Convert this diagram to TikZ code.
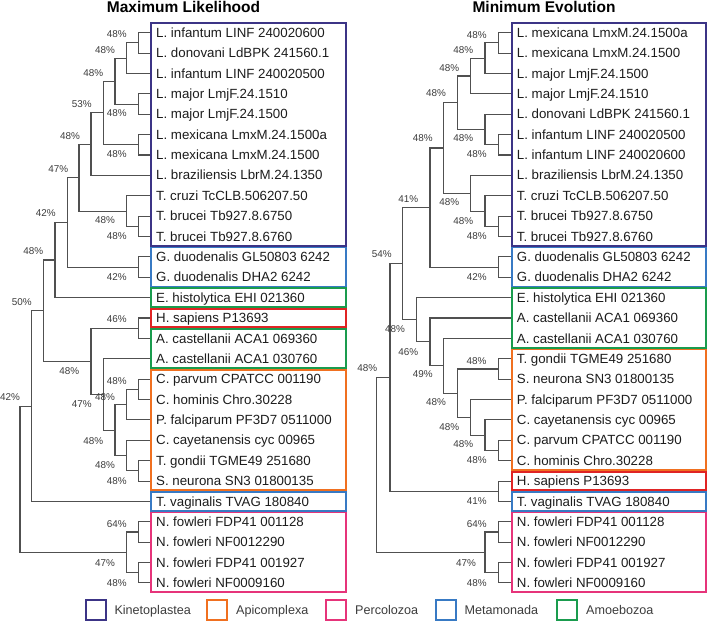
\documentclass[tikz,border=0pt]{standalone}
\usepackage{fontspec}
\setmainfont{Liberation Sans}
\definecolor{kinc}{RGB}{60,52,134}
\definecolor{apic}{RGB}{240,112,32}
\definecolor{perc}{RGB}{230,52,122}
\definecolor{metc}{RGB}{56,122,196}
\definecolor{amoc}{RGB}{26,156,78}
\definecolor{redc}{RGB}{224,36,36}
\definecolor{treec}{RGB}{80,80,80}
\definecolor{leafc}{RGB}{28,28,28}
\definecolor{pctc}{RGB}{60,60,60}
\begin{document}
\begin{tikzpicture}[x=1pt,y=-1pt,
  leaf/.style={anchor=base west, inner sep=0pt, font=\fontsize{13.3}{15}\selectfont, text=leafc},
  pct/.style={anchor=center, inner sep=0pt, font=\fontsize{9.9}{11}\selectfont, text=pctc},
  br/.style={draw=treec, line width=1.05pt},
  grp/.style={line width=1.8pt},
  ttl/.style={anchor=base, inner sep=0pt, font=\fontsize{15.5}{18}\selectfont\bfseries, text=black},
  lgsq/.style={draw, line width=2pt, minimum size=20pt, inner sep=0pt},
  lgt/.style={anchor=base west, inner sep=0pt, font=\fontsize{12.6}{14}\selectfont, text=pctc}]
\path[use as bounding box] (0,0) rectangle (708,623);

% titles
\node[ttl] (t1) at (183.5,12.3) {Maximum Likelihood};
\node[ttl] (t2) at (544,12.3) {Minimum Evolution};

% ---------------- left tree leaves ----------------
\foreach \i/\t in {0/{L. infantum LINF 240020600},1/{L. donovani LdBPK 241560.1},2/{L. infantum LINF 240020500},3/{L. major LmjF.24.1510},4/{L. major LmjF.24.1500},5/{L. mexicana LmxM.24.1500a},6/{L. mexicana LmxM.24.1500},7/{L. braziliensis LbrM.24.1350},8/{T. cruzi TcCLB.506207.50},9/{T. brucei Tb927.8.6750},10/{T. brucei Tb927.8.6760},11/{G. duodenalis GL50803 6242},12/{G. duodenalis DHA2 6242},13/{E. histolytica EHI 021360},14/{H. sapiens P13693},15/{A. castellanii ACA1 069360},16/{A. castellanii ACA1 030760},17/{C. parvum CPATCC 001190},18/{C. hominis Chro.30228},19/{P. falciparum PF3D7 0511000},20/{C. cayetanensis cyc 00965},21/{T. gondii TGME49 251680},22/{S. neurona SN3 01800135},23/{T. vaginalis TVAG 180840},24/{N. fowleri FDP41 001128},25/{N. fowleri NF0012290},26/{N. fowleri FDP41 001927},27/{N. fowleri NF0009160}}{
  \coordinate (lt\i) at (151,{32.7+20.38*\i});
  \node[leaf] (ln\i) at (156,{37.3+20.38*\i}) {\t};
}

% ---------------- right tree leaves ----------------
\foreach \i/\t in {0/{L. mexicana LmxM.24.1500a},1/{L. mexicana LmxM.24.1500},2/{L. major LmjF.24.1500},3/{L. major LmjF.24.1510},4/{L. donovani LdBPK 241560.1},5/{L. infantum LINF 240020500},6/{L. infantum LINF 240020600},7/{L. braziliensis LbrM.24.1350},8/{T. cruzi TcCLB.506207.50},9/{T. brucei Tb927.8.6750},10/{T. brucei Tb927.8.6760},11/{G. duodenalis GL50803 6242},12/{G. duodenalis DHA2 6242},13/{E. histolytica EHI 021360},14/{A. castellanii ACA1 069360},15/{A. castellanii ACA1 030760},16/{T. gondii TGME49 251680},17/{S. neurona SN3 01800135},18/{P. falciparum PF3D7 0511000},19/{C. cayetanensis cyc 00965},20/{C. parvum CPATCC 001190},21/{C. hominis Chro.30228},22/{H. sapiens P13693},23/{T. vaginalis TVAG 180840},24/{N. fowleri FDP41 001128},25/{N. fowleri NF0012290},26/{N. fowleri FDP41 001927},27/{N. fowleri NF0009160}}{
  \coordinate (rt\i) at (512,{32.7+20.38*\i});
  \node[leaf] (rn\i) at (516.7,{37.3+20.38*\i}) {\t};
}

% ---------------- left tree internal nodes ----------------
\coordinate (A) at (138.3,42.89);
\coordinate (B) at (126.7,58.18);
\coordinate (C) at (138.3,104.03);
\coordinate (D) at (115,81.10);
\coordinate (E) at (138.3,144.79);
\coordinate (F) at (103.3,112.95);
\coordinate (G) at (91,144.16);
\coordinate (T1) at (138.3,226.31);
\coordinate (T2) at (126.7,211.03);
\coordinate (H) at (79,177.59);
\coordinate (Gi) at (138.3,267.07);
\coordinate (I) at (67.7,222.33);
\coordinate (J) at (55,259.99);
\coordinate (N) at (138.3,328.21);
\coordinate (Cp) at (138.3,389.35);
\coordinate (Q) at (126.7,404.64);
\coordinate (S) at (138.3,470.87);
\coordinate (R) at (126.7,455.59);
\coordinate (P) at (115,430.11);
\coordinate (O) at (103.3,394.45);
\coordinate (M) at (91,361.33);
\coordinate (K) at (43.3,310.66);
\coordinate (L) at (31.7,406.05);
\coordinate (V) at (138.3,532.01);
\coordinate (W) at (138.3,572.77);
\coordinate (X) at (126.7,552.39);
\coordinate (U) at (20,479.22);

\draw[br] (lt0) -| (A) |- (lt1);
\draw[br] (A) -| (B) |- (lt2);
\draw[br] (lt3) -| (C) |- (lt4);
\draw[br] (B) -| (D) |- (C);
\draw[br] (lt5) -| (E) |- (lt6);
\draw[br] (D) -| (F) |- (E);
\draw[br] (F) -| (G) |- (lt7);
\draw[br] (lt9) -| (T1) |- (lt10);
\draw[br] (lt8) -| (T2) |- (T1);
\draw[br] (G) -| (H) |- (T2);
\draw[br] (lt11) -| (Gi) |- (lt12);
\draw[br] (H) -| (I) |- (Gi);
\draw[br] (I) -| (J) |- (lt13);
\draw[br] (lt14) -| (N) |- (lt15);
\draw[br] (lt17) -| (Cp) |- (lt18);
\draw[br] (Cp) -| (Q) |- (lt19);
\draw[br] (lt21) -| (S) |- (lt22);
\draw[br] (lt20) -| (R) |- (S);
\draw[br] (Q) -| (P) |- (R);
\draw[br] (lt16) -| (O) |- (P);
\draw[br] (N) -| (M) |- (O);
\draw[br] (J) -| (K) |- (M);
\draw[br] (K) -| (L) |- (lt23);
\draw[br] (lt24) -| (V) |- (lt25);
\draw[br] (lt26) -| (W) |- (lt27);
\draw[br] (V) -| (X) |- (W);
\draw[br] (L) -| (U) |- (X);

% ---------------- right tree internal nodes ----------------
\coordinate (a) at (498.3,42.89);
\coordinate (b) at (485,58.18);
\coordinate (c) at (470.7,76.01);
\coordinate (d) at (498.3,144.79);
\coordinate (e) at (485,129.51);
\coordinate (f) at (457.3,102.76);
\coordinate (j) at (498.3,226.31);
\coordinate (i) at (485,211.03);
\coordinate (h) at (470.7,193.19);
\coordinate (g) at (443.3,147.98);
\coordinate (l) at (498.3,267.07);
\coordinate (k) at (430,207.52);
\coordinate (rr) at (498.3,368.97);
\coordinate (u) at (498.3,450.49);
\coordinate (t) at (485,435.20);
\coordinate (s) at (470.7,417.37);
\coordinate (q) at (457.3,393.17);
\coordinate (p) at (443.3,365.79);
\coordinate (o) at (430,341.90);
\coordinate (n) at (416.7,319.77);
\coordinate (m) at (402.7,263.65);
\coordinate (w) at (498.3,491.25);
\coordinate (v) at (390,377.45);
\coordinate (vv) at (498.3,532.01);
\coordinate (ww) at (498.3,572.77);
\coordinate (xx) at (485,552.39);
\coordinate (root) at (376.3,464.92);

\draw[br] (rt0) -| (a) |- (rt1);
\draw[br] (a) -| (b) |- (rt2);
\draw[br] (b) -| (c) |- (rt3);
\draw[br] (rt5) -| (d) |- (rt6);
\draw[br] (rt4) -| (e) |- (d);
\draw[br] (c) -| (f) |- (e);
\draw[br] (rt9) -| (j) |- (rt10);
\draw[br] (rt8) -| (i) |- (j);
\draw[br] (rt7) -| (h) |- (i);
\draw[br] (f) -| (g) |- (h);
\draw[br] (rt11) -| (l) |- (rt12);
\draw[br] (g) -| (k) |- (l);
\draw[br] (rt16) -| (rr) |- (rt17);
\draw[br] (rt20) -| (u) |- (rt21);
\draw[br] (rt19) -| (t) |- (u);
\draw[br] (rt18) -| (s) |- (t);
\draw[br] (rr) -| (q) |- (s);
\draw[br] (rt15) -| (p) |- (q);
\draw[br] (rt14) -| (o) |- (p);
\draw[br] (rt13) -| (n) |- (o);
\draw[br] (k) -| (m) |- (n);
\draw[br] (rt22) -| (w) |- (rt23);
\draw[br] (m) -| (v) |- (w);
\draw[br] (rt24) -| (vv) |- (rt25);
\draw[br] (rt26) -| (ww) |- (rt27);
\draw[br] (vv) -| (xx) |- (ww);
\draw[br] (v) -| (root) |- (xx);

% ---------------- support values ----------------
\foreach \x/\y/\t [count=\c] in {116.7/34.5/48,105/50/48,93.3/72.7/48,81.7/104/53,116.7/113.3/48,70/135.7/48,116.7/154.3/48,58.3/168.7/47,105/220.5/48,116.7/236/48,45.7/213.5/42,116.7/277/42,33.3/251/48,21.7/302/50,116.7/319.5/46,69.3/370.7/48,116.7/381/48,105/396.7/48,81.7/404/47,10/397.5/42,93.3/440.7/48,105/465/48,116.7/480.7/48,116.7/524/64,105/562.7/47,116.7/582.7/48}{
  \node[pct] (pl\c) at (\x,\y) {\t\%};
}
\foreach \x/\y/\t [count=\c] in {476.7/34.7/48,463.3/50/48,449.3/67.7/48,436/93.3/48,422.7/138.3/48,463.3/138.3/48,476.7/154.3/48,408.3/199/41,449.3/202.5/48,463.3/220.7/48,476.7/235.8/48,381.7/254.3/54,476.7/276.7/42,395/329/48,408.3/351.7/46,422.7/374.5/49,476.5/361/48,367.3/368.3/48,436/402/48,449.3/426.7/48,463.3/444.5/48,476.7/460.5/48,476.7/501/41,476.7/524/64,466/562.7/47,476.7/582.7/48}{
  \node[pct] (pr\c) at (\x,\y) {\t\%};
}

% ---------------- group boxes ----------------
\foreach \xa/\xb in {150.7/346, 511.7/706.3}{
  \draw[grp,draw=kinc] (\xa,23.4) rectangle (\xb,245.8);
  \draw[grp,draw=metc] (\xa,247.58) rectangle (\xb,286.56);
  \draw[grp,draw=perc] (\xa,512.52) rectangle (\xb,592.26);
  \draw[grp,draw=metc] (\xa,492.14) rectangle (\xb,510.74);
}
% left specific
\draw[grp,draw=amoc] (150.7,288.34) rectangle (346,306.94);
\draw[grp,draw=redc] (150.7,308.72) rectangle (346,327.32);
\draw[grp,draw=amoc] (150.7,329.10) rectangle (346,368.08);
\draw[grp,draw=apic] (150.7,369.86) rectangle (346,490.36);
% right specific
\draw[grp,draw=amoc] (511.7,288.34) rectangle (706.3,347.70);
\draw[grp,draw=apic] (511.7,349.48) rectangle (706.3,469.98);
\draw[grp,draw=redc] (511.7,471.76) rectangle (706.3,490.36);

% ---------------- legend ----------------
\node[lgsq,draw=kinc] (lg1) at (95.5,609.5) {};
\node[lgt] (lgt1) at (114.3,614) {Kinetoplastea};
\node[lgsq,draw=apic] (lg2) at (217.2,609.5) {};
\node[lgt] (lgt2) at (236,614) {Apicomplexa};
\node[lgsq,draw=perc] (lg3) at (335.5,609.5) {};
\node[lgt] (lgt3) at (355,614) {Percolozoa};
\node[lgsq,draw=metc] (lg4) at (445.5,609.5) {};
\node[lgt] (lgt4) at (464.3,614) {Metamonada};
\node[lgsq,draw=amoc] (lg5) at (567.2,609.5) {};
\node[lgt] (lgt5) at (586,614) {Amoebozoa};
\end{tikzpicture}
\end{document}
